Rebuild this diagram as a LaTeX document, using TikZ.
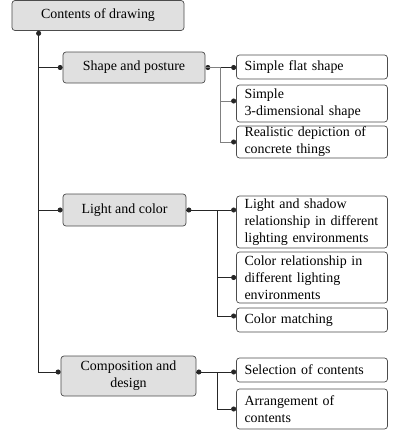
\documentclass[tikz,border=0pt]{standalone}
\usepackage{fontspec}
\setmainfont{Liberation Serif}
\usetikzlibrary{arrows.meta,calc}

\tikzset{
  topic/.style={draw=black!70, fill=black!12, rounded corners=3bp, align=center, inner sep=0pt, line width=0.7bp},
  leaf/.style={draw=black!70, fill=white, rounded corners=3bp, align=left, text width=135bp, inner xsep=8bp, inner ysep=0pt, line width=0.7bp},
  link/.style={black!85, line width=0.7bp, -{Circle[length=5bp,black!85]}},
  dotlink/.style={black!85, line width=0.7bp, {Circle[length=5bp]}-{Circle[length=5bp]}},
}

\begin{document}
\begin{tikzpicture}[x=1bp,y=-1bp,font=\fontsize{14}{17}\selectfont]
                \useasboundingbox (0,0) rectangle (400,430);
                \node [topic, minimum width=172bp, minimum height=30bp] (root) at (98,15.5) {Contents of drawing};
                \node [topic, minimum width=142bp, minimum height=31bp] (shape) at (134,67.5) {Shape and posture};
                \node [topic, minimum width=123bp, minimum height=32bp] (light) at (124.5,210) {Light and color};
                \node [topic, minimum width=135bp, minimum height=40bp] (comp) at (128.5,376) {Composition and\\design};
                % shape and posture
                \node [leaf, minimum height=24bp] (flat) at (312,67) {Simple flat shape};
                \node [leaf, minimum height=37bp] (solid) at (312,103.5) {Simple\\3-dimensional shape};
                \node [leaf, minimum height=32bp] (real) at (312,142) {Realistic depiction of\\concrete things};
                % light and color
                \node [leaf, minimum height=52bp] (shadow) at (312,222) {Light and shadow\\relationship in different\\lighting environments};
                \node [leaf, minimum height=51bp] (colrel) at (312,277.5) {Color relationship in\\different lighting\\environments};
                \node [leaf, minimum height=24bp] (match) at (312,320) {Color matching};
                % composition and design
                \node [leaf, minimum height=24bp] (select) at (312,370) {Selection of contents};
                \node [leaf, minimum height=40bp] (arrange) at (312,409) {Arrangement of\\contents};
                \coordinate (rootfoot) at ($(root.south west)+(27,0)$);
                \coordinate (compin) at ($(comp.west)+(0,-4)$);
                \coordinate (compout) at ($(comp.east)+(0,-4)$);
                % trunk
                \draw [dotlink] (rootfoot) |- (shape.west);
                \draw [link] (rootfoot) |- (light.west);
                \draw [link] (rootfoot) |- (compin);
                % branches
                \draw [dotlink] (shape.east) -- (shape.east -| flat.west);
                \draw [link, black!50] (shape.east) -- ++(15,0) |- ($(solid.west)+(0,-2.5)$);
                \draw [link, black!50] (shape.east) -- ++(15,0) |- (real.west);
                \draw [dotlink] (light.east) -- (light.east -| shadow.west);
                \draw [link] (light.east) -- ++(31,0) |- (colrel.west);
                \draw [link] (light.east) -- ++(31,0) |- ($(match.west)+(0,-4)$);
                \draw [dotlink] (compout) -- (compout -| select.west);
                \draw [link] (compout) -- ++(21,0) |- (arrange.west);
            \end{tikzpicture}
\end{document}
